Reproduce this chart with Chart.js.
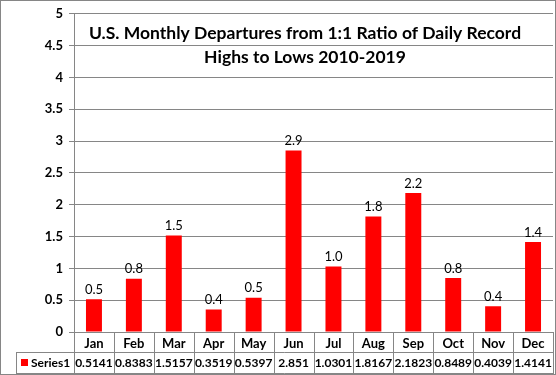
<!DOCTYPE html>
<html>
<head>
<meta charset="utf-8">
<script src="https://cdn.jsdelivr.net/npm/chart.js@4"></script>
<style>
html,body{margin:0;padding:0;background:#fff;}
#wrap{width:556px;height:375px;position:relative;}
</style>
</head>
<body>
<div id="wrap"><canvas id="c" width="556" height="375"></canvas></div>
<script>
const categories = ["Jan","Feb","Mar","Apr","May","Jun","Jul","Aug","Sep","Oct","Nov","Dec"];
const series1 = [0.5141,0.8383,1.5157,0.3519,0.5397,2.851,1.0301,1.8167,2.1823,0.8489,0.4039,1.4141];
const seriesName = "Series1";
const titleLines = ["U.S. Monthly Departures from 1:1 Ratio of Daily Record","Highs to Lows 2010-2019"];

const GRID = "#868686";
const FONT = "Lato, 'Open Sans', sans-serif";

const extras = {
  id: "extras",
  afterDatasetsDraw(chart) {
    const ctx = chart.ctx;
    const meta = chart.getDatasetMeta(0);
    ctx.save();
    ctx.fillStyle = "#000";
    ctx.font = "13px " + FONT;
    ctx.textAlign = "center";
    ctx.textBaseline = "bottom";
    meta.data.forEach((bar, i) => {
      ctx.fillText(series1[i].toFixed(1), bar.x, bar.y - 3);
    });
    ctx.restore();
  },
  afterDraw(chart) {
    const ctx = chart.ctx;
    const area = chart.chartArea;
    const x = chart.scales.x;
    const n = categories.length;
    const step = (area.right - area.left) / n;
    const r1 = area.bottom, r2 = area.bottom + 20, r3 = 374;
    const leftCol = 16;
    ctx.save();
    ctx.strokeStyle = GRID;
    ctx.lineWidth = 1;
    ctx.beginPath();
    ctx.moveTo(area.left, r1 + 0.5); ctx.lineTo(area.right, r1 + 0.5);
    ctx.moveTo(leftCol + 0.5, r2 + 0.5); ctx.lineTo(area.right, r2 + 0.5);
    ctx.moveTo(leftCol + 0.5, r3 - 0.5); ctx.lineTo(area.right, r3 - 0.5);
    for (let i = 0; i <= n; i++) {
      const vx = Math.round(area.left + i * step) + 0.5;
      ctx.moveTo(vx, r1); ctx.lineTo(vx, r3);
    }
    ctx.moveTo(leftCol + 0.5, r2); ctx.lineTo(leftCol + 0.5, r3);
    ctx.stroke();
    ctx.fillStyle = "#FF0000";
    ctx.fillRect(21, r2 + 7, 7, 7);
    ctx.fillStyle = "#000";
    ctx.font = "bold 12px " + FONT;
    ctx.textBaseline = "middle";
    ctx.textAlign = "left";
    ctx.fillText(seriesName, 31, (r2 + r3) / 2);
    ctx.textAlign = "center";
    for (let i = 0; i < n; i++) {
      ctx.fillText(String(series1[i]), x.getPixelForValue(i), (r2 + r3) / 2);
    }
    ctx.font = "bold 17.5px " + FONT;
    ctx.textBaseline = "middle";
    ctx.textAlign = "center";
    ctx.fillText(titleLines[0], 305, 33);
    ctx.fillText(titleLines[1], 305, 57);
    ctx.strokeStyle = GRID;
    ctx.strokeRect(0.5, 0.5, 555, 374);
    ctx.restore();
  }
};

new Chart(document.getElementById("c"), {
  type: "bar",
  data: {
    labels: categories,
    datasets: [{
      label: seriesName,
      data: series1,
      backgroundColor: "#FF0000",
      barPercentage: 0.4,
      categoryPercentage: 1.0
    }]
  },
  options: {
    responsive: false,
    animation: false,
    devicePixelRatio: 1,
    layout: { padding: { left: 0, right: 3, top: 9, bottom: 0 } },
    plugins: { legend: { display: false }, tooltip: { enabled: false }, title: { display: false } },
    scales: {
      x: {
        grid: { display: false, drawTicks: false, tickLength: 0 },
        border: { display: false },
        ticks: { color: "#000", font: { family: FONT, size: 13, weight: "bold" }, padding: 4, maxRotation: 0 },
        afterFit(s) { s.height = 43; }
      },
      y: {
        min: 0, max: 5,
        ticks: {
          stepSize: 0.5, color: "#000", font: { family: FONT, size: 13, weight: "bold" }, padding: 6,
          callback: (v) => String(Math.round(v * 10) / 10)
        },
        grid: { color: GRID, tickLength: 5 },
        border: { display: true, color: GRID },
        afterFit(s) { s.width = 74; }
      }
    }
  },
  plugins: [extras]
});
</script>
</body>
</html>
